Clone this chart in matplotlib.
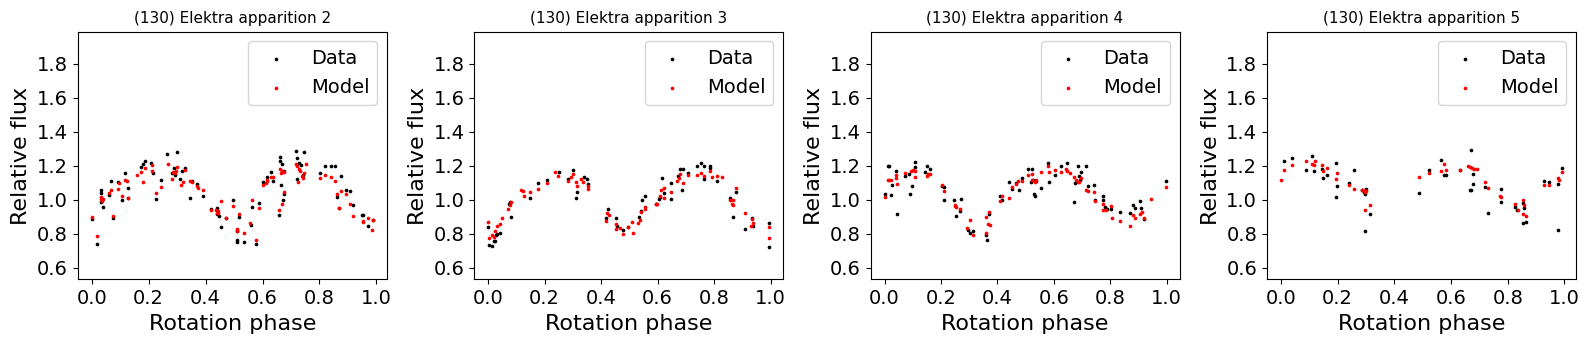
import matplotlib
matplotlib.use("Agg")
import matplotlib.pyplot as plt

titles = ["(130) Elektra apparition 2", "(130) Elektra apparition 3",
          "(130) Elektra apparition 4", "(130) Elektra apparition 5"]

# ---------------- apparition 2 ----------------
data2_phase = [0.000, 0.018, 0.032, 0.033, 0.034, 0.040, 0.061, 0.068, 0.073, 0.093, 0.106, 0.117, 0.126, 0.128,
               0.172, 0.181, 0.186, 0.208, 0.214, 0.225, 0.243, 0.266, 0.283, 0.289, 0.291, 0.299, 0.311, 0.317,
               0.327, 0.346, 0.351, 0.371, 0.390, 0.419, 0.441, 0.441, 0.446, 0.455, 0.471, 0.495, 0.511, 0.512,
               0.512, 0.517, 0.534, 0.558, 0.564, 0.576, 0.589, 0.603, 0.615, 0.628, 0.636, 0.658, 0.662, 0.662,
               0.668, 0.664, 0.671, 0.675, 0.677, 0.717, 0.721, 0.722, 0.729, 0.734, 0.742, 0.747, 0.801, 0.819,
               0.839, 0.855, 0.860, 0.869, 0.876, 0.893, 0.908, 0.916, 0.951, 0.954, 0.969, 0.987]
data2_flux = [0.888, 0.737, 1.055, 1.041, 0.988, 0.957, 1.027, 1.109, 0.892, 1.102, 0.996, 1.157, 1.070, 1.008,
              1.190, 1.213, 1.231, 1.219, 1.160, 1.004, 1.119, 1.268, 1.157, 1.186, 1.143, 1.282, 1.123, 1.168,
              1.186, 1.009, 1.113, 1.094, 1.019, 0.945, 0.949, 0.917, 0.902, 0.839, 0.890, 0.998, 0.813, 0.764,
              0.753, 0.898, 0.751, 0.851, 0.957, 0.739, 0.980, 1.102, 1.135, 1.166, 1.108, 0.910, 1.253, 1.231,
              1.211, 1.088, 1.000, 1.031, 1.172, 1.290, 1.243, 1.121, 1.217, 1.202, 1.143, 1.284, 1.157, 1.198,
              1.200, 1.200, 1.015, 0.951, 1.139, 1.055, 1.051, 0.966, 0.909, 0.909, 0.847, 0.878]
model2_phase = [0.000, 0.018, 0.033, 0.034, 0.035, 0.039, 0.061, 0.069, 0.073, 0.093, 0.095, 0.106, 0.117, 0.125,
                0.128, 0.159, 0.173, 0.180, 0.186, 0.210, 0.213, 0.225, 0.243, 0.267, 0.283, 0.286, 0.291, 0.297,
                0.299, 0.312, 0.319, 0.327, 0.346, 0.352, 0.371, 0.372, 0.390, 0.419, 0.437, 0.441, 0.444, 0.445,
                0.455, 0.471, 0.495, 0.511, 0.512, 0.516, 0.534, 0.557, 0.564, 0.576, 0.589, 0.603, 0.611, 0.616,
                0.617, 0.629, 0.635, 0.658, 0.663, 0.665, 0.668, 0.670, 0.674, 0.677, 0.717, 0.722, 0.723, 0.729,
                0.731, 0.739, 0.742, 0.747, 0.753, 0.802, 0.819, 0.840, 0.855, 0.860, 0.869, 0.876, 0.894, 0.908,
                0.916, 0.952, 0.954, 0.969, 0.983, 0.987]
model2_flux = [0.900, 0.788, 1.015, 1.006, 0.992, 1.002, 1.041, 1.059, 0.906, 1.066, 1.098, 1.023, 1.119, 1.109,
               1.011, 1.143, 1.162, 1.104, 1.186, 1.204, 1.168, 1.039, 1.074, 1.209, 1.123, 1.164, 1.160, 1.168,
               1.190, 1.088, 1.106, 1.176, 1.111, 1.104, 1.078, 1.070, 1.055, 0.939, 0.941, 0.923, 0.921, 0.935,
               0.994, 0.892, 0.960, 0.827, 0.815, 0.917, 0.806, 0.862, 0.996, 0.760, 0.953, 1.084, 1.098, 1.117,
               1.111, 1.135, 1.135, 0.939, 1.180, 1.157, 1.170, 0.972, 1.047, 1.166, 1.209, 1.198, 1.106, 1.180,
               1.172, 1.141, 1.127, 1.160, 1.211, 1.129, 1.147, 1.131, 1.113, 1.035, 0.949, 1.049, 1.035, 0.976,
               0.904, 0.866, 0.872, 0.894, 0.823, 0.880]

# ---------------- apparition 3 ----------------
data3_phase = [0.000, 0.004, 0.012, 0.021, 0.026, 0.027, 0.033, 0.043, 0.073, 0.077, 0.080, 0.147, 0.175, 0.207,
               0.250, 0.281, 0.301, 0.310, 0.313, 0.338, 0.351, 0.354, 0.426, 0.453, 0.455, 0.478, 0.497, 0.533,
               0.542, 0.546, 0.556, 0.595, 0.606, 0.610, 0.614, 0.623, 0.647, 0.648, 0.672, 0.679, 0.688, 0.690,
               0.707, 0.740, 0.753, 0.765, 0.765, 0.785, 0.786, 0.810, 0.857, 0.868, 0.876, 0.908, 0.933, 0.938,
               0.995, 0.995, 0.419]
data3_flux = [0.841, 0.731, 0.727, 0.755, 0.759, 0.794, 0.800, 0.806, 0.972, 0.986, 0.898, 1.011, 1.096, 1.115,
              1.162, 1.123, 1.174, 1.011, 1.045, 1.133, 1.121, 1.090, 0.947, 0.894, 0.843, 0.819, 0.837, 0.898,
              0.931, 1.000, 1.023, 0.976, 1.004, 1.015, 1.129, 1.041, 1.004, 1.098, 1.137, 1.180, 1.059, 1.180,
              1.159, 1.198, 1.215, 1.198, 1.123, 1.198, 1.188, 1.108, 1.013, 0.900, 1.043, 0.827, 0.892, 0.845,
              0.864, 0.721, 0.894]
model3_phase = [0.000, 0.004, 0.012, 0.021, 0.026, 0.033, 0.042, 0.050, 0.071, 0.076, 0.080, 0.117, 0.124, 0.128,
                0.147, 0.175, 0.207, 0.235, 0.249, 0.281, 0.294, 0.301, 0.310, 0.313, 0.329, 0.337, 0.353, 0.354,
                0.419, 0.422, 0.427, 0.453, 0.454, 0.467, 0.478, 0.497, 0.510, 0.514, 0.532, 0.539, 0.542, 0.555,
                0.556, 0.595, 0.599, 0.608, 0.612, 0.622, 0.622, 0.648, 0.668, 0.676, 0.679, 0.690, 0.706, 0.740,
                0.753, 0.766, 0.785, 0.791, 0.810, 0.828, 0.857, 0.862, 0.866, 0.868, 0.876, 0.908, 0.930, 0.933,
                0.938, 0.995, 0.995]
model3_flux = [0.868, 0.776, 0.790, 0.782, 0.815, 0.845, 0.857, 0.892, 0.943, 0.970, 0.984, 1.055, 1.049, 1.021,
               1.047, 1.064, 1.098, 1.162, 1.139, 1.113, 1.133, 1.153, 1.104, 1.078, 1.121, 1.102, 1.066, 1.078,
               0.876, 0.923, 0.908, 0.859, 0.827, 0.835, 0.800, 0.837, 0.870, 0.806, 0.862, 0.882, 0.927, 0.947,
               0.957, 0.972, 0.972, 1.023, 1.055, 1.070, 1.011, 1.047, 1.113, 1.129, 1.149, 1.098, 1.143, 1.143,
               1.160, 1.141, 1.170, 1.135, 1.139, 1.133, 1.000, 0.976, 0.996, 0.968, 1.068, 0.923, 0.845, 0.888,
               0.862, 0.837, 0.772]

# ---------------- apparition 4 ----------------
data4_phase = [0.000, 0.012, 0.014, 0.023, 0.025, 0.041, 0.043, 0.073, 0.088, 0.089, 0.099, 0.108, 0.108, 0.144,
               0.149, 0.160, 0.203, 0.211, 0.210, 0.246, 0.255, 0.266, 0.271, 0.296, 0.304, 0.313, 0.358, 0.364,
               0.371, 0.409, 0.417, 0.440, 0.451, 0.465, 0.477, 0.487, 0.510, 0.518, 0.522, 0.526, 0.530, 0.532,
               0.536, 0.554, 0.578, 0.583, 0.604, 0.626, 0.645, 0.670, 0.676, 0.684, 0.688, 0.692, 0.695, 0.714,
               0.722, 0.744, 0.746, 0.774, 0.774, 0.783, 0.788, 0.803, 0.833, 0.870, 0.882, 0.889, 0.905, 0.909,
               0.919, 0.996]
data4_flux = [1.035, 1.198, 1.200, 1.025, 1.086, 1.168, 0.913, 1.141, 1.153, 1.033, 1.078, 1.194, 1.223, 1.162,
              1.196, 1.182, 1.078, 1.074, 0.998, 0.996, 0.906, 0.933, 1.004, 0.823, 0.804, 0.817, 0.790, 0.764,
              0.917, 1.019, 0.996, 1.104, 1.066, 1.098, 1.060, 1.125, 1.182, 1.104, 1.182, 1.119, 1.035, 1.019,
              1.113, 1.068, 1.219, 1.102, 1.145, 1.196, 1.217, 0.986, 1.096, 1.200, 1.137, 1.117, 1.162, 1.196,
              1.082, 1.088, 0.996, 1.021, 0.996, 0.957, 0.945, 0.945, 0.925, 0.921, 0.968, 0.951, 0.994, 0.951,
              0.886, 1.113]
model4_phase = [0.000, 0.011, 0.014, 0.024, 0.042, 0.042, 0.045, 0.073, 0.092, 0.101, 0.108, 0.108, 0.149, 0.155,
                0.160, 0.203, 0.210, 0.248, 0.250, 0.254, 0.269, 0.294, 0.304, 0.315, 0.358, 0.360, 0.365, 0.371,
                0.373, 0.409, 0.418, 0.441, 0.451, 0.467, 0.474, 0.487, 0.510, 0.521, 0.524, 0.533, 0.536, 0.554,
                0.578, 0.584, 0.604, 0.627, 0.644, 0.645, 0.657, 0.670, 0.678, 0.684, 0.691, 0.695, 0.715, 0.722,
                0.744, 0.747, 0.774, 0.775, 0.784, 0.802, 0.805, 0.834, 0.870, 0.880, 0.889, 0.905, 0.911, 0.919,
                0.946, 0.996]
model4_flux = [1.015, 1.119, 1.119, 1.117, 1.143, 1.127, 1.092, 1.160, 1.172, 1.178, 1.133, 1.168, 1.141, 1.149,
               1.153, 1.086, 1.049, 0.970, 0.960, 0.957, 0.945, 0.833, 0.878, 0.790, 0.900, 0.804, 0.859, 0.925,
               0.849, 0.990, 1.019, 1.009, 1.072, 1.094, 1.113, 1.113, 1.143, 1.149, 1.115, 1.104, 1.119, 1.164,
               1.196, 1.166, 1.174, 1.166, 1.182, 1.172, 1.157, 1.133, 1.117, 1.104, 1.106, 1.129, 1.059, 1.051,
               1.043, 0.992, 0.972, 0.937, 0.937, 0.960, 0.892, 0.874, 0.843, 0.909, 0.894, 0.917, 0.929, 0.892,
               1.004, 1.072]

# ---------------- apparition 5 ----------------
data5_phase = [0.009, 0.040, 0.089, 0.110, 0.116, 0.145, 0.150, 0.161, 0.194, 0.199, 0.195, 0.239, 0.259, 0.286,
               0.293, 0.295, 0.300, 0.295, 0.315, 0.488, 0.521, 0.564, 0.576, 0.583, 0.633, 0.671, 0.666, 0.669,
               0.679, 0.678, 0.721, 0.730, 0.776, 0.775, 0.827, 0.834, 0.852, 0.857, 0.852, 0.865, 0.927, 0.944,
               0.976, 0.977, 0.991]
data5_flux = [1.231, 1.247, 1.174, 1.257, 1.170, 1.180, 1.125, 1.143, 1.217, 1.080, 1.015, 1.100, 1.178, 1.059,
              1.047, 1.031, 1.062, 0.815, 0.915, 1.041, 1.174, 1.235, 1.145, 1.143, 1.174, 1.294, 1.055, 1.059,
              1.094, 1.151, 1.076, 0.919, 1.062, 0.984, 0.955, 0.941, 0.980, 0.949, 0.860, 0.870, 1.111, 1.104,
              1.090, 0.821, 1.184]
model5_phase = [0.000, 0.009, 0.040, 0.089, 0.110, 0.117, 0.121, 0.145, 0.150, 0.161, 0.194, 0.199, 0.239, 0.259,
                0.286, 0.290, 0.295, 0.299, 0.295, 0.315, 0.488, 0.521, 0.564, 0.576, 0.581, 0.633, 0.659, 0.666,
                0.674, 0.682, 0.690, 0.721, 0.730, 0.773, 0.776, 0.827, 0.835, 0.852, 0.857, 0.852, 0.865, 0.927,
                0.944, 0.976, 0.979, 0.991]
model5_flux = [1.119, 1.174, 1.202, 1.231, 1.213, 1.202, 1.231, 1.204, 1.170, 1.186, 1.121, 1.160, 1.084, 1.062,
               1.059, 1.055, 1.045, 1.051, 0.939, 0.966, 1.135, 1.159, 1.168, 1.208, 1.174, 1.176, 1.198, 1.194,
               1.186, 1.180, 1.180, 1.107, 1.070, 1.019, 1.015, 0.974, 0.941, 0.996, 0.966, 0.913, 0.902, 1.088,
               1.088, 1.127, 1.119, 1.164]

data_phases = [data2_phase, data3_phase, data4_phase, data5_phase]
data_fluxes = [data2_flux, data3_flux, data4_flux, data5_flux]
model_phases = [model2_phase, model3_phase, model4_phase, model5_phase]
model_fluxes = [model2_flux, model3_flux, model4_flux, model5_flux]

fig, axes = plt.subplots(1, 4, figsize=(15.89, 3.45), dpi=100)
fig.subplots_adjust(left=0.0489, right=0.9918, bottom=0.19, top=0.908, wspace=0.2826)

for ax, title, dp, df, mp, mf in zip(axes, titles, data_phases, data_fluxes, model_phases, model_fluxes):
    ax.scatter(dp, df, s=7, c="black", linewidths=0, label="Data")
    ax.scatter(mp, mf, s=7, c="red", linewidths=0, label="Model")
    ax.set_ylim(0.53, 1.99)
    ax.set_yticks([0.6, 0.8, 1.0, 1.2, 1.4, 1.6, 1.8])
    ax.set_xticks([0.0, 0.2, 0.4, 0.6, 0.8, 1.0])
    ax.tick_params(labelsize=14)
    ax.set_xlabel("Rotation phase", fontsize=16)
    ax.set_ylabel("Relative flux", fontsize=16)
    ax.set_title(title, fontsize=11)
    ax.legend(loc="upper right", fontsize=14, scatterpoints=1)

fig.savefig("out.png", dpi=100)
